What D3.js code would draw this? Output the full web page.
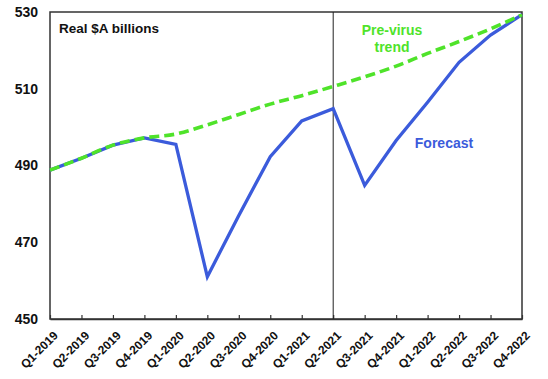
<!DOCTYPE html>
<html><head><meta charset="utf-8">
<script src="https://cdn.jsdelivr.net/npm/d3@7"></script>
<style>body{margin:0;background:#fff}svg{display:block}text{font-family:"Liberation Sans",Arial,sans-serif;font-weight:bold}</style>
</head><body><svg id="c" width="548" height="379"></svg>
<script>
const quarters = ["Q1-2019","Q2-2019","Q3-2019","Q4-2019","Q1-2020","Q2-2020","Q3-2020","Q4-2020","Q1-2021","Q2-2021","Q3-2021","Q4-2021","Q1-2022","Q2-2022","Q3-2022","Q4-2022"];
const forecast = [488.8,491.9,495.3,497.2,495.5,461.0,477.0,492.3,501.6,504.8,484.8,496.5,506.5,516.9,524.0,529.3];
const trend = [488.8,491.9,495.3,497.2,498.2,500.6,503.3,506.0,508.2,510.6,513.1,515.9,519.2,522.3,525.6,529.3];
const yTicks = [450,470,490,510,530];
const markerQuarter = "Q2-2021";

const svg = d3.select("#c");
const m = {l:50, r:522, t:12, b:319};
const x = d3.scalePoint().domain(quarters).range([m.l, m.r]);
const y = d3.scaleLinear().domain([450,530]).range([m.b, m.t]);

// frame
svg.append("rect").attr("x",m.l).attr("y",m.t).attr("width",m.r-m.l).attr("height",m.b-m.t)
  .attr("fill","none").attr("stroke","#333").attr("stroke-width",1.5);

// x axis ticks (inward)
const xa = svg.append("g").attr("transform",`translate(0,${m.b})`)
  .call(d3.axisBottom(x).tickSizeInner(-4).tickSizeOuter(0).tickPadding(6));
xa.select(".domain").attr("stroke","#333").attr("stroke-width",1.5);
xa.selectAll(".tick line").attr("stroke","#333").attr("stroke-width",1.2);
xa.selectAll(".tick text").attr("font-size",12).attr("fill","#111")
  .attr("text-anchor","end").attr("dy",0)
  .attr("transform","translate(4,13) rotate(-45)");

// y axis labels
const ya = svg.append("g").attr("transform",`translate(${m.l},0)`)
  .call(d3.axisLeft(y).tickValues(yTicks).tickSize(0).tickPadding(12));
ya.select(".domain").remove();
ya.selectAll(".tick text").attr("font-size",14).attr("fill","#111");

// vertical marker
svg.append("line").attr("x1",x(markerQuarter)).attr("x2",x(markerQuarter))
  .attr("y1",m.t).attr("y2",m.b).attr("stroke","#222").attr("stroke-width",1);

const line = d3.line().x((d,i)=>x(quarters[i])).y(d=>y(d));
svg.append("path").datum(forecast).attr("d",line).attr("fill","none")
  .attr("stroke","#3b5bdb").attr("stroke-width",3.3).attr("stroke-linejoin","miter");
svg.append("path").datum(trend).attr("d",d3.line().x((d,i)=>x(quarters[i])).y(d=>y(d)).curve(d3.curveMonotoneX))
  .attr("fill","none").attr("stroke","#4fe32a").attr("stroke-width",3.6).attr("stroke-dasharray","10,5");

svg.append("text").attr("x",59).attr("y",33).attr("font-size",13.5).attr("fill","#111").text("Real $A billions");
const tl = svg.append("text").attr("x",392).attr("y",35).attr("font-size",14).attr("fill","#4fe32a").attr("text-anchor","middle");
tl.append("tspan").attr("x",392).text("Pre-virus");
tl.append("tspan").attr("x",392).attr("dy",17).text("trend");
svg.append("text").attr("x",444).attr("y",148).attr("font-size",14).attr("fill","#3b5bdb").attr("text-anchor","middle").text("Forecast");
</script></body></html>
